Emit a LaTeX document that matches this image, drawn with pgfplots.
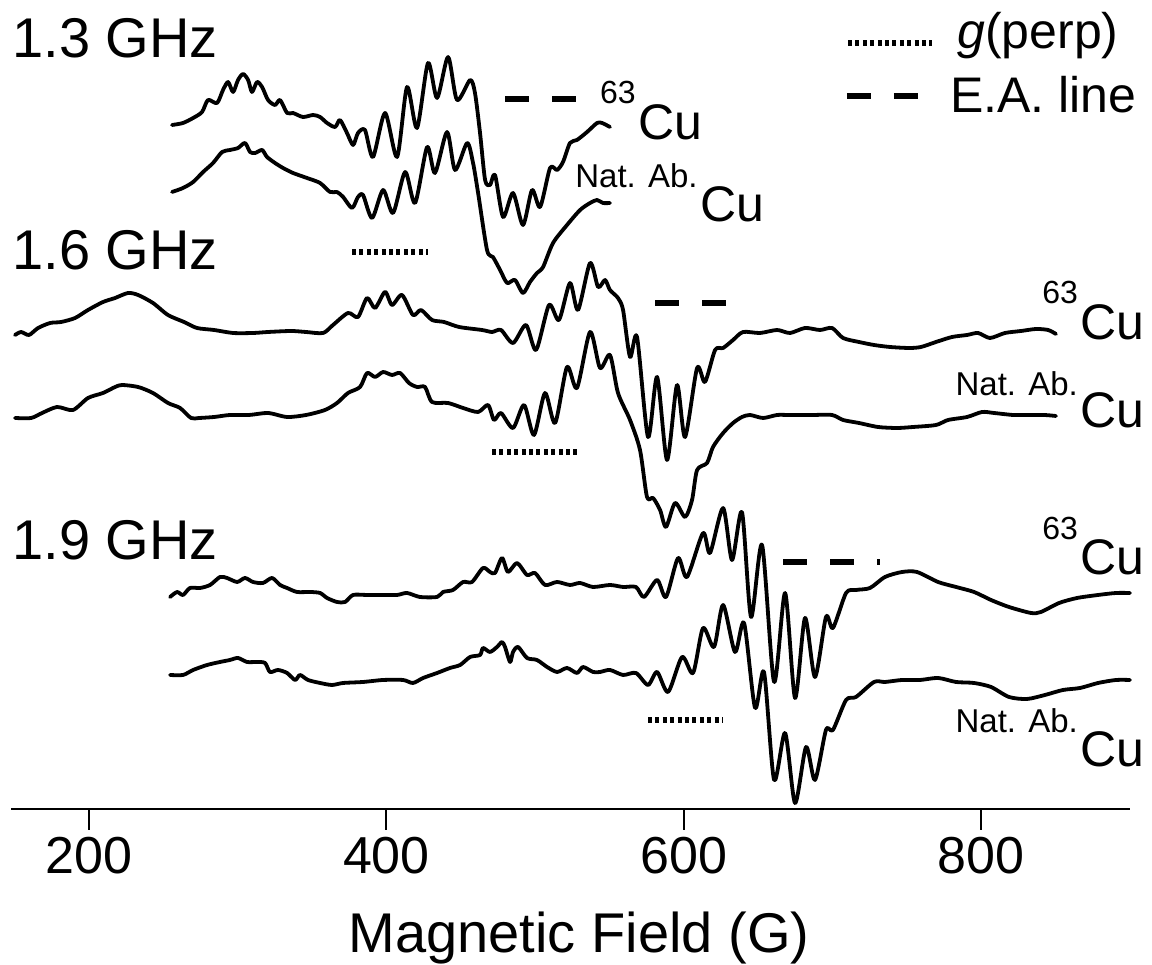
\documentclass[border=0pt]{standalone}
\usepackage{fontspec}
\setmainfont{Liberation Sans}
\usepackage{pgfplots}
\pgfplotsset{compat=1.18}
\begin{document}
\begin{tikzpicture}
\begin{axis}[
  x=0.74335pt, y=0.5pt,
  xmin=147.5, xmax=900.2, ymin=156, ymax=965,
  axis x line=bottom, axis y line=none,
  axis line style={-, line width=1pt, black},
  xtick={200,400,600,800},
  xtick align=outside,
  major tick length=10.5pt,
  tick style={line width=1pt, black},
  ytick=\empty,
  /pgf/number format/assume math mode=true,
  xticklabel style={font=\fontsize{26}{26}\selectfont, text=black},
  clip=false,
  trace/.style={black, line width=1.9pt, smooth, tension=0.45, line join=round, line cap=round},
  ea/.style={black, line width=2.6pt, dash pattern=on 12pt off 11.5pt},
  gp/.style={black, line width=2.6pt, dash pattern=on 2pt off 1.7pt},
]
% invisible frame giving the picture its size
\path (axis cs:140.1,0) rectangle (axis cs:915.0,965);

% 1.3 GHz, 63Cu
\addplot[trace] coordinates {
(255.8,840)(263.2,842)(270.0,847)(276.0,853)(280.0,865)(286.1,862)(290.1,875)(293.5,883)
(296.9,873)(300.2,885)(303.6,891)(307.0,885)(309.6,873)(313.0,883)(316.4,878)(320.4,865)
(325.1,860)(328.5,865)(333.2,852)(337.2,852)(343.9,848)(350.7,850)(355.4,848)(360.1,842)
(365.5,838)(368.8,845)(373.5,832)(377.6,820)(380.9,832)(385.6,835)(391.0,808)(399.1,852)
(407.2,808)(413.9,878)(420.6,837)(428.0,902)(434.1,867)(441.5,908)(447.5,865)(456.3,885)
(459.6,872)(463.0,832)(466.4,785)(469.7,780)(473.1,790)(478.5,748)(485.2,772)(491.9,740)
(498.0,775)(503.4,758)(510.1,797)(514.8,795)(518.8,803)(523.5,822)(528.2,825)(535.0,833)
(541.7,842)(545.1,842)(550.4,838)};
% 1.3 GHz, natural abundance
\addplot[trace] coordinates {
(255.8,773)(263.2,777)(270.0,783)(276.7,793)(283.4,802)(289.5,813)(294.8,815)(300.2,817)
(304.9,822)(308.3,813)(311.7,812)(316.4,815)(319.7,808)(325.1,802)(330.5,797)(337.2,792)
(346.6,787)(355.4,782)(362.1,773)(366.8,773)(370.9,768)(376.9,757)(380.9,768)(384.3,770)
(390.4,747)(397.8,775)(404.5,752)(412.6,793)(419.3,762)(427.4,818)(432.7,792)(440.8,833)
(446.2,795)(454.3,822)(458.3,802)(461.7,772)(467.7,715)(471.7,708)(476.5,695)(481.2,682)
(486.5,685)(491.9,672)(496.6,683)(501.3,692)(505.4,698)(512.1,722)(521.5,740)(530.3,755)
(537.0,762)(541.7,765)(545.7,762)(550.4,762)};
% 1.6 GHz, 63Cu
\addplot[trace] coordinates {
(150.2,630)(154.3,633)(159.6,630)(165.7,637)(173.8,642)(181.2,643)(190.6,647)(199.3,655)
(209.4,663)(217.5,667)(226.2,672)(233.0,670)(243.0,662)(253.1,650)(263.9,643)(272.6,637)
(284.1,635)(296.9,632)(310.3,632)(320.4,633)(335.9,634)(346.0,633)(357.4,632)(364.1,640)
(374.2,652)(380.9,648)(387.0,667)(392.4,657)(399.1,673)(403.8,660)(410.5,670)(417.9,650)
(423.3,655)(430.7,645)(438.8,643)(448.9,638)(464.3,635)(471.1,633)(477.1,635)(485.2,622)
(493.9,640)(500.7,615)(509.4,660)(516.1,645)(523.5,682)(528.9,655)(537.0,702)(542.4,678)
(547.1,685)(550.4,675)(555.8,667)(559.2,655)(563.9,608)(568.6,628)(576.0,528)(582.1,588)
(588.8,505)(595.5,580)(600.9,528)(609.0,597)(614.3,583)(621.1,615)(626.5,617)(633.2,625)
(639.9,633)(651.3,632)(662.8,635)(671.5,632)(681.6,637)(691.7,635)(699.8,637)(707.2,627)
(717.9,623)(728.0,620)(738.8,618)(751.6,617)(759.6,618)(769.7,623)(780.5,628)(790.6,630)
(798.0,632)(806.0,627)(816.1,632)(826.9,634)(837.0,636)(845.1,635)(850.4,631)};
% 1.6 GHz, natural abundance
\addplot[trace] coordinates {
(150.2,547)(161.0,547)(168.4,552)(178.5,558)(189.2,555)(199.3,567)(209.4,572)(217.5,578)
(222.2,580)(233.0,578)(243.0,572)(253.1,562)(261.2,557)(268.6,547)(274.0,547)(284.1,548)
(294.8,550)(307.6,550)(320.4,552)(333.2,548)(346.0,550)(358.7,555)(366.8,562)(374.2,572)
(382.3,578)(387.0,592)(392.4,588)(397.8,593)(403.8,590)(409.2,592)(415.2,582)(420.6,578)
(426.0,578)(430.7,563)(441.5,562)(451.6,557)(461.7,553)(468.4,560)(472.4,545)(477.1,552)
(485.2,537)(492.6,560)(499.3,530)(506.7,572)(513.5,542)(521.5,598)(528.2,577)(537.0,633)
(543.7,597)(550.4,610)(555.8,572)(563.9,545)(570.6,515)(575.3,468)(579.4,467)(584.1,455)
(588.1,438)(594.2,462)(600.9,448)(605.6,465)(609.0,495)(615.7,502)(619.7,518)(626.5,532)
(633.2,542)(639.2,548)(644.6,550)(653.4,547)(662.8,550)(670.8,550)(686.3,550)(699.8,550)
(707.2,545)(717.9,542)(730.7,538)(743.5,537)(754.3,538)(769.7,540)(777.8,545)(790.6,548)
(800.7,553)(808.7,552)(821.5,550)(829.6,550)(842.4,550)(850.4,549)};
% 1.9 GHz, 63Cu
\addplot[trace] coordinates {
(254.5,368)(259.2,373)(263.2,370)(267.9,377)(274.7,377)(281.4,380)(288.1,388)(292.8,387)
(299.6,383)(304.9,387)(310.3,383)(317.0,382)(323.1,387)(328.5,380)(333.2,377)(339.9,373)
(348.7,373)(355.4,372)(360.1,367)(366.8,363)(372.2,363)(377.6,370)(387.0,370)(397.8,370)
(407.2,370)(413.9,372)(422.6,368)(434.1,368)(438.1,373)(444.8,375)(451.6,383)(457.6,383)
(465.0,397)(469.7,393)(473.1,392)(477.8,407)(481.8,393)(487.9,402)(494.6,390)(500.0,392)
(506.7,380)(514.8,383)(523.5,380)(530.3,382)(539.0,378)(550.4,380)(559.2,378)(567.9,378)
(573.3,368)(582.1,385)(588.1,368)(596.2,407)(602.2,388)(613.0,432)(617.7,412)(626.5,457)
(632.5,405)(639.2,453)(645.3,348)(652.7,420)(660.8,283)(668.2,372)(674.9,267)(681.6,347)
(688.3,288)(695.7,348)(700.4,337)(709.2,372)(715.9,375)(725.3,377)(735.4,388)(746.9,393)
(756.9,393)(771.1,383)(783.2,378)(795.3,373)(806.7,365)(818.8,358)(833.6,352)(840.3,353)
(852.5,362)(864.6,367)(878.7,370)(890.8,372)(900.2,372)};
% 1.9 GHz, natural abundance
\addplot[trace] coordinates {
(254.5,290)(263.2,290)(270.0,295)(279.4,300)(288.1,303)(294.8,305)(300.2,307)(306.3,303)
(313.0,303)(318.4,302)(321.7,293)(327.1,295)(333.2,292)(338.6,285)(341.9,290)(347.3,285)
(355.4,282)(363.4,280)(370.9,282)(384.3,283)(397.8,285)(411.2,285)(417.9,282)(424.7,287)
(434.1,292)(442.8,297)(449.6,300)(456.3,308)(463.0,310)(465.0,317)(469.7,313)(474.4,318)
(477.8,323)(479.8,318)(483.2,303)(485.2,313)(488.6,318)(494.6,307)(501.3,305)(508.1,298)
(514.8,293)(521.5,297)(528.2,292)(532.3,298)(539.0,293)(543.7,293)(550.4,295)(559.2,290)
(567.9,292)(576.0,280)(582.1,293)(589.5,273)(598.9,308)(606.3,292)(613.0,337)(620.4,318)
(626.5,360)(634.5,313)(640.6,342)(648.0,257)(654.0,293)(660.8,185)(668.2,232)(674.9,162)
(682.3,218)(688.3,185)(695.7,235)(700.4,235)(709.2,265)(715.9,268)(728.0,283)(735.4,283)
(746.9,285)(759.0,285)(771.1,287)(783.2,283)(795.3,282)(806.7,278)(818.8,268)(830.9,266)
(843.0,270)(855.1,275)(866.6,277)(878.7,282)(890.8,285)(900.2,285)};

% E.A. line and g(perp) markers
\addplot[ea] coordinates {(479.8,866)(528.9,866)};
\addplot[gp] coordinates {(376.9,713)(428.0,713)};
\addplot[ea] coordinates {(580.7,662)(628.5,662)};
\addplot[gp] coordinates {(471.1,513)(530.3,513)};
\addplot[ea] coordinates {(666.8,403)(732.1,403)};
\addplot[gp] coordinates {(576.0,245)(626.5,245)};
% legend samples
\addplot[gp] coordinates {(710.5,922)(767.0,922)};
\addplot[ea] coordinates {(709.8,869)(769.7,869)};

% texts
\node[anchor=base west, inner sep=0pt, font=\fontsize{28}{28}\selectfont] at (axis cs:148.2,907) {1.3 GHz};
\node[anchor=base west, inner sep=0pt, font=\fontsize{28}{28}\selectfont] at (axis cs:148.2,695) {1.6 GHz};
\node[anchor=base west, inner sep=0pt, font=\fontsize{28}{28}\selectfont] at (axis cs:148.2,405) {1.9 GHz};

\node[anchor=base west, inner sep=0pt, font=\fontsize{25}{25}\selectfont] (c1) at (axis cs:569.3,825) {Cu};
\node[anchor=base east, inner sep=0pt, font=\fontsize{16}{16}\selectfont] at ([xshift=-1pt,yshift=18pt]c1.base west) {63};
\node[anchor=base west, inner sep=0pt, font=\fontsize{25}{25}\selectfont] (c2) at (axis cs:611.0,743) {Cu};
\node[anchor=base east, inner sep=0pt, font=\fontsize{16.5}{16.5}\selectfont] at ([xshift=-1pt,yshift=17pt]c2.base west) {Nat. Ab.};

\node[anchor=base east, inner sep=0pt, font=\fontsize{25}{25}\selectfont] (c3) at (axis cs:910.3,625) {Cu};
\node[anchor=base east, inner sep=0pt, font=\fontsize{16}{16}\selectfont] at ([xshift=-1pt,yshift=18pt]c3.base west) {63};
\node[anchor=base east, inner sep=0pt, font=\fontsize{25}{25}\selectfont] (c4) at (axis cs:910.3,537) {Cu};
\node[anchor=base east, inner sep=0pt, font=\fontsize{16.5}{16.5}\selectfont] at ([xshift=-1pt,yshift=16pt]c4.base west) {Nat. Ab.};

\node[anchor=base east, inner sep=0pt, font=\fontsize{25}{25}\selectfont] (c5) at (axis cs:910.3,390) {Cu};
\node[anchor=base east, inner sep=0pt, font=\fontsize{16}{16}\selectfont] at ([xshift=-1pt,yshift=17.5pt]c5.base west) {63};
\node[anchor=base east, inner sep=0pt, font=\fontsize{25}{25}\selectfont] (c6) at (axis cs:910.3,198) {Cu};
\node[anchor=base east, inner sep=0pt, font=\fontsize{16.5}{16.5}\selectfont] at ([xshift=-1pt,yshift=17pt]c6.base west) {Nat. Ab.};

\node[anchor=base west, inner sep=0pt, font=\fontsize{25}{25}\selectfont] at (axis cs:783.8,916) {\textit{g}(perp)};
\node[anchor=base west, inner sep=0pt, font=\fontsize{25}{25}\selectfont] at (axis cs:779.1,852) {E.A. line};

\node[anchor=base, inner sep=0pt, font=\fontsize{28}{28}\selectfont] at (axis cs:529.6,12) {Magnetic Field (G)};
\end{axis}
\end{tikzpicture}
\end{document}
